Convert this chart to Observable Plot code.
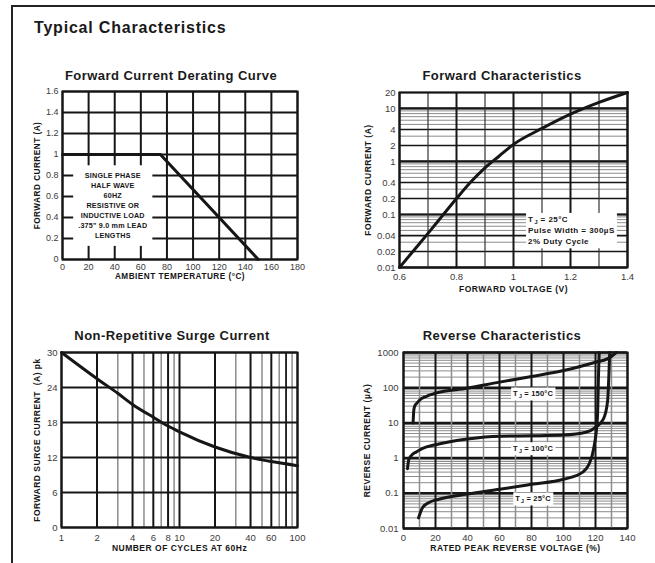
<!DOCTYPE html>
<html><head><meta charset="utf-8">
<script src="https://cdn.jsdelivr.net/npm/d3@7"></script>
<script src="https://cdn.jsdelivr.net/npm/@observablehq/plot@0.6"></script>
<style>
html,body{margin:0;padding:0;background:#fff;}
#page{position:relative;width:655px;height:563px;overflow:hidden;font-family:"Liberation Sans",Arial,sans-serif;}
#page svg{position:absolute;left:0;top:0;}
.border{position:absolute;left:11px;top:5px;width:800px;height:800px;border-left:2px solid #222;border-top:2px solid #222;}
.ttl{position:absolute;font-weight:bold;color:#1a1a1a;white-space:nowrap;line-height:1;}
.main{left:34px;top:19.8px;font-size:16px;letter-spacing:0.8px;}
.pt{font-size:13px;letter-spacing:0.45px;transform:translateX(-50%);}
</style></head>
<body>
<div id="page">
  <div class="border"></div>
  <div class="ttl main">Typical Characteristics</div>
  <div class="ttl pt" style="left:171px;top:69px">Forward Current Derating Curve</div>
  <div class="ttl pt" style="left:502px;top:69px">Forward Characteristics</div>
  <div class="ttl pt" style="left:172px;top:329px">Non-Repetitive Surge Current</div>
  <div class="ttl pt" style="left:502px;top:329px">Reverse Characteristics</div>
</div>
<script>
// ---------- data ----------
// Forward current derating curve
const derTemp = [0, 75, 150];
const derCurrent = [1, 1, 0];
const derXTicks = [0, 20, 40, 60, 80, 100, 120, 140, 160, 180];
const derYTicks = [0, 0.2, 0.4, 0.6, 0.8, 1, 1.2, 1.4, 1.6];
const derNote = ["SINGLE PHASE", "HALF WAVE", "60HZ", "RESISTIVE OR", "INDUCTIVE LOAD", ".375\" 9.0 mm LEAD", "LENGTHS"];

// Forward characteristics
const fwdVolt = [0.6, 0.65, 0.7, 0.75, 0.8, 0.85, 0.9, 0.95, 1.0, 1.1, 1.2, 1.3, 1.4];
const fwdCurr = [0.01, 0.021, 0.044, 0.094, 0.2, 0.41, 0.76, 1.27, 2.1, 4.2, 7.8, 13, 20];
const fwdXTicks = [0.6, 0.8, 1, 1.2, 1.4];
const fwdXMinor = [0.7, 0.9, 1.1, 1.3];
const fwdYTicks = [0.01, 0.02, 0.04, 0.1, 0.2, 0.4, 1, 2, 4, 10, 20];
const fwdNote = ["TJ = 25°C", "Pulse Width = 300µS", "2% Duty Cycle"];

// Non-repetitive surge current
const surgeCycles = [1, 2, 3, 4, 6, 8, 10, 20, 40, 60, 100];
const surgeAmps = [30, 25.5, 23, 21.1, 18.9, 17.4, 16.4, 13.8, 12, 11.3, 10.6];
const surgeXTicks = [1, 2, 4, 6, 8, 10, 20, 40, 60, 100];
const surgeXMinor = [3, 5, 7, 9, 30, 50, 70, 90];
const surgeXDark = [80];
const surgeYTicks = [0, 6, 12, 18, 24, 30];

// Reverse characteristics
const rev150Volt = [6, 6.4, 7, 8.5, 10, 14, 20, 40, 60, 80, 100, 120, 128, 133];
const rev150Curr = [10, 22, 30, 37, 44, 56, 70, 97, 144, 208, 307, 530, 680, 1000];
const rev100Volt = [2.5, 3.3, 5, 8, 12, 20, 40, 60, 80, 100, 114, 120, 125, 127.6, 128.4, 128.9];
const rev100Curr = [0.5, 0.9, 1.2, 1.5, 1.9, 2.4, 3.5, 4.2, 4.3, 4.5, 5.4, 7.5, 13, 43, 250, 1000];
const rev25Volt = [9.4, 12, 16, 20, 40, 60, 80, 100, 112, 116, 119, 121.2, 121.9, 122.3];
const rev25Curr = [0.02, 0.04, 0.055, 0.064, 0.095, 0.13, 0.18, 0.25, 0.4, 0.68, 2, 14, 250, 1000];
const revXTicks = [0, 20, 40, 60, 80, 100, 120, 140];
const revXMinor = [10, 30, 50, 70, 90, 110, 130];
const revYTicks = [0.01, 0.1, 1, 10, 100, 1000];
const revLabels = ["TJ = 150°C", "TJ = 100°C", "TJ = 25°C"];
const revLabelVolt = [81, 81, 81];
const revLabelCurr = [68, 1.9, 0.071];

// ---------- helpers ----------
const W = 655, H = 563;
const INK = "#161616", GRAY = "#8c8c8c", TICK = "#3a3a3a";
const FONT = "'Liberation Sans', Arial, sans-serif";
function logMinor(decades, max) {
  const out = [];
  for (const d of decades) for (let k = 2; k <= 9; k++) {
    const v = +(d * k).toPrecision(3);
    if (v <= max) out.push(v);
  }
  return out;
}
function line(xs, ys, curve) {
  return Plot.line(d3.range(xs.length), {x: i => xs[i], y: i => ys[i], stroke: INK, strokeWidth: 3, curve, strokeLinejoin: "round"});
}
// tick labels and axis titles, placed through the scales
function axes(xt, yt, xl, yl, o) {
  return [
    Plot.text(xt, {x: d => d, text: d => String(d), frameAnchor: "bottom", dy: o.xTick, lineAnchor: "middle", fontSize: o.fs, fill: TICK}),
    Plot.text(yt, {y: d => d, text: d => String(d), frameAnchor: "left", dx: -o.yPad, textAnchor: "end", lineAnchor: "middle", fontSize: o.fs, fill: TICK}),
    Plot.text([xl], {text: d => d, frameAnchor: "bottom", dy: o.xLab, textAnchor: "middle", lineAnchor: "middle", fontSize: o.lfs, fontWeight: "bold", fill: INK, className: "axlab"}),
    Plot.text([yl], {text: d => d, frameAnchor: "left", dx: -o.yLab, rotate: -90, textAnchor: "middle", lineAnchor: "middle", fontSize: o.lfs, fontWeight: "bold", fill: INK, className: "axlab"})
  ];
}
function panel(fr, x, y, marks) {
  return Plot.plot({
    width: W, height: H,
    marginLeft: fr[0], marginRight: W - fr[1], marginTop: fr[2], marginBottom: H - fr[3],
    x: {...x, axis: null}, y: {...y, axis: null}, marks,
    style: {fontFamily: FONT, fontSize: "9px", color: "#333", background: "transparent", overflow: "visible"}
  });
}
const noteStyle = {fontFamily: FONT, fontWeight: "bold", fill: INK, className: "note"};

// ---------- panels ----------
const p1 = panel([62, 297, 91, 259],
  {domain: [0, 180]}, {domain: [0, 1.6]},
  [
    Plot.ruleX(derXTicks, {stroke: INK, strokeWidth: 2}),
    Plot.ruleY(derYTicks, {stroke: INK, strokeWidth: 2}),
    Plot.text([derNote.join("\n")], {x: 38.5, y: 0.52, text: d => d, fontSize: 7.2, lineHeight: 1.38, textAnchor: "middle", ...noteStyle}),
    line(derTemp, derCurrent, "linear"),
    Plot.frame({stroke: INK, strokeWidth: 2}),
    ...axes(derXTicks, derYTicks, "AMBIENT TEMPERATURE (°C)", "FORWARD CURRENT (A)", {fs: 9, lfs: 8.2, xTick: 7.5, yPad: 4, xLab: 17, yLab: 25})
  ]);

const p2 = panel([399, 627, 92, 267],
  {domain: [0.6, 1.4]}, {type: "log", domain: [0.01, 20]},
  [
    Plot.ruleY(logMinor([0.01, 0.1, 1, 10], 20).filter(v => !fwdYTicks.includes(v)), {stroke: GRAY, strokeWidth: 1}),
    Plot.ruleY(fwdYTicks, {stroke: INK, strokeWidth: 1.6}),
    Plot.ruleY([0.01, 0.1, 1, 10], {stroke: INK, strokeWidth: 2.2}),
    Plot.ruleX(fwdXMinor, {stroke: "#333", strokeWidth: 1.2}),
    Plot.ruleX(fwdXTicks, {stroke: INK, strokeWidth: 2}),
    Plot.text([fwdNote.join("\n")], {x: 1.051, y: 0.052, text: d => d, fontSize: 8, lineHeight: 1.4, textAnchor: "start", ...noteStyle, className: "note wide"}),
    line(fwdVolt, fwdCurr, "monotone-x"),
    Plot.frame({stroke: INK, strokeWidth: 2}),
    ...axes(fwdXTicks, fwdYTicks, "FORWARD VOLTAGE (V)", "FORWARD CURRENT (A)", {fs: 9.5, lfs: 8.5, xTick: 9.5, yPad: 4, xLab: 22, yLab: 31})
  ]);

const p3 = panel([61, 297, 352, 527],
  {type: "log", domain: [1, 100]}, {domain: [0, 30]},
  [
    Plot.ruleX(surgeXMinor, {stroke: GRAY, strokeWidth: 1.5}),
    Plot.ruleX(surgeXDark, {stroke: INK, strokeWidth: 1.8}),
    Plot.ruleX(surgeXTicks, {stroke: INK, strokeWidth: 2}),
    Plot.ruleY(surgeYTicks, {stroke: INK, strokeWidth: 2}),
    line(surgeCycles, surgeAmps, "monotone-x"),
    Plot.frame({stroke: INK, strokeWidth: 2}),
    ...axes(surgeXTicks, surgeYTicks, "NUMBER OF CYCLES AT 60Hz", "FORWARD SURGE CURRENT  (A) pk", {fs: 9.5, lfs: 8.5, xTick: 10, yPad: 4, xLab: 21, yLab: 24})
  ]);

const p4 = panel([403, 627, 352, 528],
  {domain: [0, 140]}, {type: "log", domain: [0.01, 1000]},
  [
    Plot.ruleY(logMinor([0.01, 0.1, 1, 10, 100], 1000), {stroke: GRAY, strokeWidth: 1}),
    Plot.ruleY(revYTicks, {stroke: INK, strokeWidth: 2.5}),
    Plot.ruleX(revXMinor, {stroke: GRAY, strokeWidth: 1.5}),
    Plot.ruleX(revXTicks, {stroke: INK, strokeWidth: 2}),
    Plot.text(revLabels, {x: (d, i) => revLabelVolt[i], y: (d, i) => revLabelCurr[i], text: d => d, fontSize: 7.5, textAnchor: "middle", ...noteStyle}),
    line(rev150Volt, rev150Curr, "monotone-x"),
    line(rev100Volt, rev100Curr, "monotone-x"),
    line(rev25Volt, rev25Curr, "monotone-x"),
    Plot.frame({stroke: INK, strokeWidth: 2}),
    ...axes(revXTicks, revYTicks, "RATED PEAK REVERSE VOLTAGE (%)", "REVERSE CURRENT (µA)", {fs: 9.5, lfs: 8.5, xTick: 9, yPad: 5, xLab: 20, yLab: 36})
  ]);

const page = document.getElementById("page");
[p1, p2, p3, p4].forEach(svg => page.appendChild(svg));

// slightly wider lettering for axis titles and notes
d3.selectAll("#page g.axlab text").attr("letter-spacing", "0.5px");
d3.selectAll("#page g.note text").attr("letter-spacing", "0.2px");
d3.selectAll("#page g.wide text").attr("letter-spacing", "0.45px");

// white boxes behind notes and subscript J
const pads = [[5, 6], [2, 2], [2, 1.5]];
[[p1, pads[0]], [p2, pads[1]], [p4, pads[2]]].forEach(([svg, pad]) => {
  d3.select(svg).selectAll("g.note text").each(function () {
    const nodes = [this, ...this.querySelectorAll("tspan")];
    nodes.forEach(n => {
      Array.from(n.childNodes).forEach(c => {
        if (c.nodeType === 3 && c.data.startsWith("TJ")) {
          const rest = c.data.slice(2);
          const ns = "http://www.w3.org/2000/svg";
          const t0 = document.createTextNode("T");
          const s1 = document.createElementNS(ns, "tspan");
          s1.setAttribute("font-size", "70%"); s1.setAttribute("dy", "2"); s1.setAttribute("dx", "1");
          s1.textContent = "J";
          const s2 = document.createElementNS(ns, "tspan");
          s2.setAttribute("dy", "-2"); s2.textContent = rest;
          n.insertBefore(t0, c); n.insertBefore(s1, c); n.insertBefore(s2, c); n.removeChild(c);
        }
      });
    });
    const b = this.getBBox();
    const r = document.createElementNS("http://www.w3.org/2000/svg", "rect");
    r.setAttribute("x", b.x - pad[0]); r.setAttribute("y", b.y - pad[1]);
    r.setAttribute("width", b.width + 2 * pad[0]); r.setAttribute("height", b.height + 2 * pad[1]);
    r.setAttribute("fill", "white");
    if (this.getAttribute("transform")) r.setAttribute("transform", this.getAttribute("transform"));
    this.parentNode.insertBefore(r, this);
  });
});
</script>
</body></html>
